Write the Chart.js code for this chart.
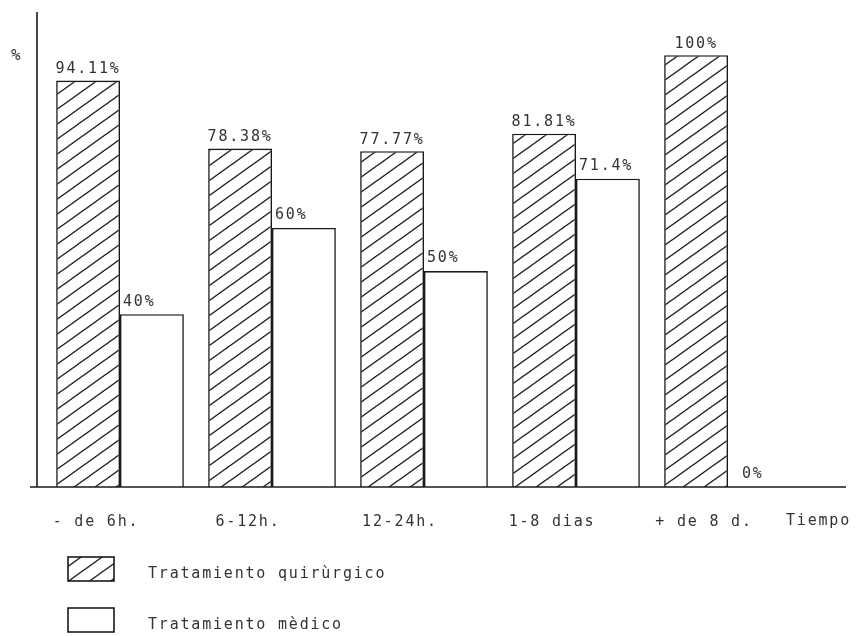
<!DOCTYPE html>
<html>
<head>
<meta charset="utf-8">
<script src="https://cdn.jsdelivr.net/npm/chart.js@4"></script>
<style>
  html, body { margin: 0; padding: 0; background: #fff; }
</style>
</head>
<body>
<canvas id="tiempoChart" width="856" height="636"></canvas>
<script>
const categories = ['- de 6h.', '6-12h.', '12-24h.', '1-8 dias', '+ de 8 d.'];
const quirurgico = [94.11, 78.38, 77.77, 81.81, 100];
const medico = [40, 60, 50, 71.4, 0];
const seriesNames = ['Tratamiento quirùrgico', 'Tratamiento mèdico'];

const FONT = '15px "DejaVu Sans Mono", monospace';
const INK = '#1a1a1a';
const TEXT = '#333';

// diagonal hatch used for the surgical bars
function makeHatch() {
    const W = 21, H = 15;
    const c = document.createElement('canvas');
    c.width = W;
    c.height = H;
    const g = c.getContext('2d');
    g.fillStyle = '#fff';
    g.fillRect(0, 0, W, H);
    g.strokeStyle = '#1e1e1e';
    g.lineWidth = 1.4;
    for (const o of [-H, 0, H]) {
        g.beginPath();
        g.moveTo(-W, 2 * H + o);
        g.lineTo(2 * W, -H + o);
        g.stroke();
    }
    return g.createPattern(c, 'repeat');
}

const ctx = document.getElementById('tiempoChart');
const hatch = makeHatch();

const paper = {
    id: 'paper',
    beforeDraw(chart) {
        const c = chart.ctx;
        c.save();
        c.fillStyle = '#fff';
        c.fillRect(0, 0, chart.width, chart.height);
        c.restore();
        c.letterSpacing = '1.8px';
    },
    afterDatasetsDraw(chart) {
        const c = chart.ctx;
        const area = chart.chartArea;
        c.save();
        c.strokeStyle = INK;
        c.lineWidth = 1.6;
        // y axis
        c.beginPath();
        c.moveTo(area.left - 7, area.top);
        c.lineTo(area.left - 7, area.bottom);
        c.stroke();
        // x axis running past the last group
        c.beginPath();
        c.moveTo(30, area.bottom);
        c.lineTo(846, area.bottom);
        c.stroke();

        // value labels
        c.font = FONT;
        c.fillStyle = TEXT;
        c.textBaseline = 'bottom';
        chart.data.datasets.forEach((ds, i) => {
            chart.getDatasetMeta(i).data.forEach((bar, j) => {
                const txt = ds.data[j] + '%';
                if (i === 0) {
                    c.textAlign = 'center';
                    c.fillText(txt, bar.x, bar.y - 4);
                } else {
                    c.textAlign = 'left';
                    const shift = ds.data[j] === 0 ? 14 : 3;
                    c.fillText(txt, bar.x - bar.width / 2 + shift, bar.y - 5);
                }
            });
        });

        c.textAlign = 'left';
        c.textBaseline = 'middle';
        c.font = '16px "DejaVu Sans Mono", monospace';
        c.fillText('%', 11, 56);
        c.font = FONT;
        c.fillText('Tiempo', 786, 521);

        // legend
        const boxes = [[68, 557], [68, 608]];
        chart.data.datasets.forEach((ds, i) => {
            const [bx, by] = boxes[i];
            c.fillStyle = ds.backgroundColor;
            c.fillRect(bx, by, 46, 24);
            c.strokeStyle = INK;
            c.lineWidth = 1.6;
            c.strokeRect(bx, by, 46, 24);
            c.fillStyle = TEXT;
            c.fillText(seriesNames[i], 148, by + 17);
        });
        c.restore();
    }
};

new Chart(ctx, {
    type: 'bar',
    data: {
        labels: categories,
        datasets: [{
            label: seriesNames[0],
            data: quirurgico,
            backgroundColor: hatch,
            borderColor: INK,
            borderWidth: 1.6,
            borderSkipped: 'bottom',
            barPercentage: 1.0,
            categoryPercentage: 0.84
        }, {
            label: seriesNames[1],
            data: medico,
            backgroundColor: '#fff',
            borderColor: INK,
            borderWidth: 1.6,
            borderSkipped: 'bottom',
            barPercentage: 1.0,
            categoryPercentage: 0.84
        }]
    },
    options: {
        responsive: false,
        animation: false,
        layout: {
            padding: { left: 44, right: 52, top: 12, bottom: 79 }
        },
        plugins: {
            legend: { display: false },
            tooltip: { enabled: false }
        },
        scales: {
            y: {
                display: false,
                min: 0,
                max: 110
            },
            x: {
                grid: { display: false, drawTicks: false, tickLength: 0 },
                border: { display: false },
                ticks: {
                    color: TEXT,
                    font: { family: '"DejaVu Sans Mono", monospace', size: 15 },
                    padding: 26,
                    labelOffset: -24,
                    maxRotation: 0,
                    autoSkip: false
                }
            }
        }
    },
    plugins: [paper]
});
</script>
</body>
</html>
